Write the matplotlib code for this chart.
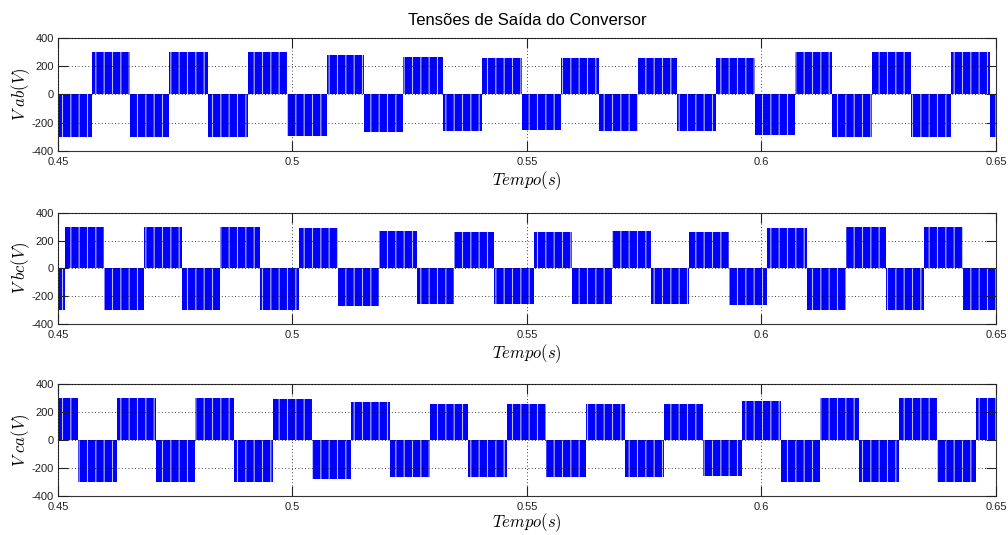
import matplotlib
matplotlib.use("Agg")
import matplotlib.pyplot as plt
import numpy as np

plt.rcParams['font.family'] = ['Liberation Sans', 'DejaVu Sans']
plt.rcParams['mathtext.fontset'] = 'cm'
plt.rcParams['axes.unicode_minus'] = False
plt.rcParams['hatch.linewidth'] = 0.8

# ---- data: block edges (s) and block levels (V) ----
vab_edges = [0.4500, 0.4572, 0.4654, 0.4737, 0.4820, 0.4905, 0.4988, 0.5073,
             0.5152, 0.5236, 0.5321, 0.5405, 0.5489, 0.5573, 0.5654, 0.5737,
             0.5820, 0.5903, 0.5987, 0.6071, 0.6150, 0.6236, 0.6319, 0.6404,
             0.6487, 0.6500]
vab_levels = [-300, 300, -300, 300, -300, 300, -293, 280, -265, 264, -257, 257,
              -254, 257, -257, 257, -257, 257, -285, 298, -300, 300, -300, 300, -300]

vbc_edges = [0.4500, 0.4516, 0.4599, 0.4683, 0.4765, 0.4846, 0.4931, 0.5013,
             0.5098, 0.5184, 0.5265, 0.5345, 0.5430, 0.5514, 0.5597, 0.5682,
             0.5764, 0.5845, 0.5930, 0.6012, 0.6098, 0.6181, 0.6265, 0.6346,
             0.6430, 0.6500]
vbc_levels = [-300, 300, -300, 300, -300, 300, -300, 290, -270, 271, -257, 265,
              -257, 264, -257, 267, -257, 264, -262, 295, -300, 300, -300, 300, -300]

vca_edges = [0.4500, 0.4542, 0.4625, 0.4710, 0.4793, 0.4875, 0.4959, 0.5042,
             0.5125, 0.5209, 0.5293, 0.5374, 0.5458, 0.5540, 0.5625, 0.5710,
             0.5792, 0.5875, 0.5958, 0.6042, 0.6125, 0.6208, 0.6293, 0.6374,
             0.6458, 0.6500]
vca_levels = [300, -300, 300, -300, 300, -300, 295, -280, 272, -262, 258, -262,
              258, -262, 258, -262, 255, -260, 280, -298, 300, -300, 300, -300, 300]

x_ticks = [0.45, 0.5, 0.55, 0.6, 0.65]
x_ticklabels = ['0.45', '0.5', '0.55', '0.6', '0.65']
y_ticks = [-400, -200, 0, 200, 400]
y_ticklabels = ['-400', '-200', '0', '200', '400']

title = 'Tensões de Saída do Conversor'
xlabel = r'$Tempo(s)$'
ylabels = [r'$V\ ab(V)$', r'$V\ bc(V)$', r'$V\ ca(V)$']

series = [(vab_edges, vab_levels), (vbc_edges, vbc_levels), (vca_edges, vca_levels)]

fig = plt.figure(figsize=(10.08, 5.35), dpi=100)
positions = [
    [0.0575, 0.7178, 0.9306, 0.2112],
    [0.0575, 0.3944, 0.9306, 0.2075],
    [0.0575, 0.0730, 0.9306, 0.2092],
]

for i, ((edges, levels), pos) in enumerate(zip(series, positions)):
    ax = fig.add_axes(pos)
    e = np.asarray(edges)
    lv = np.asarray(levels)
    ax.bar(e[:-1], lv, width=np.diff(e), align='edge', color='#0000ff',
           edgecolor='#b8bcf2', linewidth=0, hatch='||', zorder=1)
    ax.set_xlim(0.45, 0.65)
    ax.set_ylim(-400, 400)
    ax.set_xticks(x_ticks)
    ax.set_xticklabels(x_ticklabels)
    ax.set_yticks(y_ticks)
    ax.set_yticklabels(y_ticklabels)
    ax.tick_params(direction='in', length=7, width=0.8, top=True, right=True,
                   labelsize=8, colors='#222222')
    ax.tick_params(axis='x', pad=4)
    ax.tick_params(axis='y', pad=3)
    ax.grid(True, linestyle=(0, (1, 3)), color='black', linewidth=0.6)
    ax.set_axisbelow(False)
    for s in ax.spines.values():
        s.set_color('#333333')
        s.set_linewidth(0.8)
    ax.set_xlabel(xlabel, fontsize=12, labelpad=0 if i == 2 else 2)
    ax.set_ylabel(ylabels[i], fontsize=12, labelpad=0)
    if i == 0:
        ax.set_title(title, fontsize=12, pad=9)

fig.savefig('out.png', dpi=100)
